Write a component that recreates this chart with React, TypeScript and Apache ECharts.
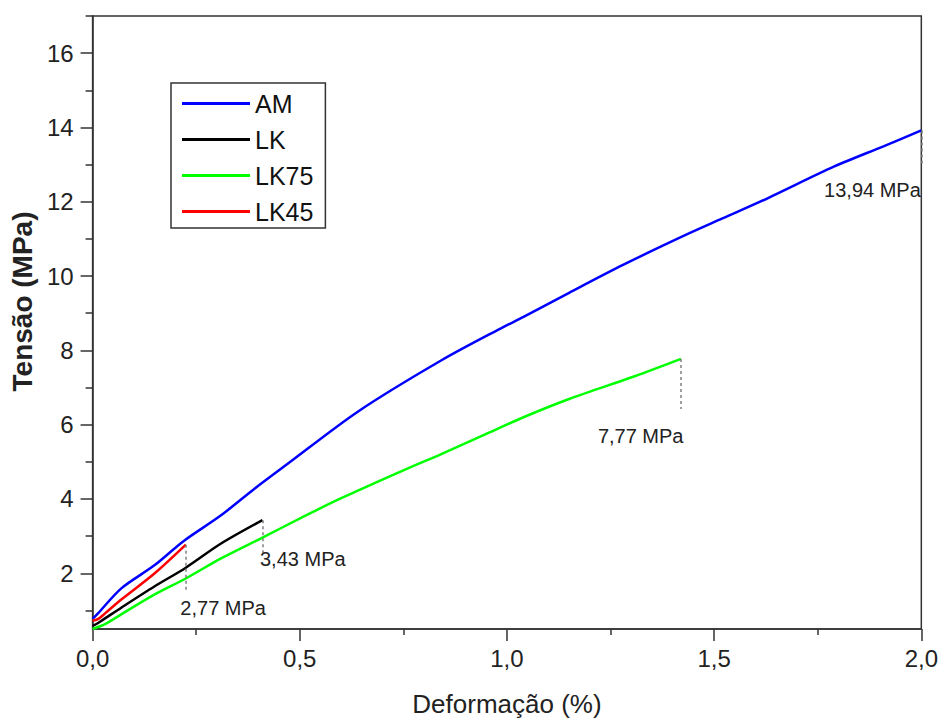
import React, { useEffect, useRef } from 'react';
import * as echarts from 'echarts';

const seriesNames = ['AM', 'LK', 'LK75', 'LK45'];
const seriesColors = ['#0000ff', '#000000', '#00ff00', '#ff0000'];

const amStrain = [0, 0.013, 0.07, 0.15, 0.22, 0.31, 0.39, 0.47, 0.64, 0.84, 0.99, 1.04, 1.15, 1.28, 1.43, 1.52, 1.63, 1.79, 1.91, 2.0];
const amStress = [0.77, 0.92, 1.6, 2.22, 2.87, 3.56, 4.27, 4.94, 6.35, 7.72, 8.62, 8.9, 9.55, 10.3, 11.1, 11.55, 12.1, 12.95, 13.5, 13.92];

const lkStrain = [0, 0.017, 0.07, 0.15, 0.225, 0.31, 0.41];
const lkStress = [0.58, 0.69, 1.08, 1.65, 2.15, 2.8, 3.43];

const lk75Strain = [0, 0.03, 0.07, 0.15, 0.225, 0.31, 0.41, 0.51, 0.6, 0.75, 0.84, 0.95, 1.04, 1.15, 1.31, 1.42];
const lk75Stress = [0.5, 0.63, 0.9, 1.43, 1.86, 2.4, 2.96, 3.53, 4.02, 4.77, 5.2, 5.75, 6.2, 6.69, 7.31, 7.77];

const lk45Strain = [0, 0.015, 0.03, 0.07, 0.15, 0.225];
const lk45Stress = [0.72, 0.78, 0.92, 1.3, 2.0, 2.77];

const peakLabels = ['13,94 MPa', '3,43 MPa', '7,77 MPa', '2,77 MPa'];

const xTickValues = [0, 0.5, 1.0, 1.5, 2.0];
const yMajorTicks = [2, 4, 6, 8, 10, 12, 14, 16];
const yMinorTicks = [1, 3, 5, 7, 9, 11, 13, 15, 17];

const strains = [amStrain, lkStrain, lk75Strain, lk45Strain];
const stresses = [amStress, lkStress, lk75Stress, lk45Stress];

// annotation styling (drop length in axis units, label offsets in px)
const annotStyle = [
  { drop: 0.9, dx: 0, dy: 60, align: 'right' },
  { drop: 0.9, dx: -2, dy: 39, align: 'left' },
  { drop: 1.35, dx: 3, dy: 78, align: 'right' },
  { drop: 1.25, dx: -5, dy: 64, align: 'left' },
];

const FONT = '"Liberation Sans", Arial, sans-serif';
const AXIS = '#333';
const fmt = (v: number) => v.toFixed(1).replace('.', ',');

export default function App() {
  const ref = useRef<HTMLDivElement>(null);
  useEffect(() => {
    if (!ref.current) return;
    const chart = echarts.init(ref.current, undefined, { renderer: 'svg' });
    const series = seriesNames.map((name, i) => {
      const xs = strains[i];
      const ys = stresses[i];
      const data = xs.map((x, k) => [x, ys[k]]);
      const xe = xs[xs.length - 1];
      const ye = ys[ys.length - 1];
      const a = annotStyle[i];
      return {
        name,
        type: 'line',
        data,
        showSymbol: false,
        smooth: 0.3,
        color: seriesColors[i],
        lineStyle: { width: 2.5, color: seriesColors[i] },
        markLine: {
          silent: true,
          symbol: ['none', 'none'],
          label: { show: false },
          lineStyle: { color: '#808080', type: [3, 3], width: 1.5 },
          data: [[{ coord: [xe, ye] }, { coord: [xe, ye - a.drop] }]],
        },
        markPoint: {
          silent: true,
          symbol: 'circle',
          symbolSize: 1,
          itemStyle: { color: 'rgba(0,0,0,0)' },
          label: {
            show: true,
            position: [a.dx, a.dy],
            align: a.align,
            verticalAlign: 'middle',
            formatter: peakLabels[i],
            fontSize: 20,
            fontFamily: FONT,
            color: '#222',
          },
          data: [{ coord: [xe, ye] }],
        },
      };
    });
    chart.setOption({
      animation: false,
      backgroundColor: '#ffffff',
      grid: {
        left: 88,
        right: 19,
        top: 16,
        bottom: 90,
        show: true,
        borderColor: AXIS,
        borderWidth: 1.5,
        backgroundColor: 'transparent',
      },
      legend: {
        data: seriesNames,
        orient: 'vertical',
        left: 171,
        top: 83,
        padding: [8, 12, 4, 11],
        itemGap: 11,
        itemWidth: 68,
        itemHeight: 3,
        icon: 'rect',
        borderColor: AXIS,
        borderWidth: 1.5,
        textStyle: { fontSize: 25, fontFamily: FONT, color: '#111' },
      },
      xAxis: {
        type: 'value',
        min: 0,
        max: 2,
        interval: 0.5,
        name: 'Deformação (%)',
        nameLocation: 'middle',
        nameGap: 62,
        nameTextStyle: { fontSize: 26, fontFamily: FONT, color: '#222' },
        axisLine: { lineStyle: { color: AXIS, width: 1.5 } },
        axisTick: { length: 12, lineStyle: { color: AXIS, width: 1.5 }, customValues: xTickValues },
        minorTick: { show: true, splitNumber: 2, length: 6, lineStyle: { color: AXIS, width: 1.5 } },
        splitLine: { show: false },
        axisLabel: { formatter: fmt, fontSize: 24, margin: 17, color: '#222', fontFamily: FONT },
      },
      yAxis: [
        {
          type: 'value',
          min: 0.5,
          max: 17,
          position: 'left',
          name: 'Tensão (MPa)',
          nameLocation: 'middle',
          nameGap: 54,
          nameTextStyle: { fontSize: 28, fontWeight: 'bold', fontFamily: FONT, color: '#222', padding: [0, 0, 0, 42] },
          axisLine: { lineStyle: { color: AXIS, width: 1.5 } },
          axisTick: { length: 12, lineStyle: { color: AXIS, width: 1.5 }, customValues: yMajorTicks },
          splitLine: { show: false },
          axisLabel: { customValues: yMajorTicks, fontSize: 24, margin: 19, color: '#222', fontFamily: FONT },
        },
        {
          type: 'value',
          min: 0.5,
          max: 17,
          position: 'left',
          axisLine: { show: false },
          axisTick: { show: true, length: 7, lineStyle: { color: AXIS, width: 1.5 }, customValues: yMinorTicks },
          splitLine: { show: false },
          axisLabel: { show: false },
        },
      ],
      series,
    });
    return () => chart.dispose();
  }, []);
  return <div ref={ref} style={{ position: 'absolute', left: 0, top: 0, width: 941, height: 722, background: '#fff' }} />;
}
